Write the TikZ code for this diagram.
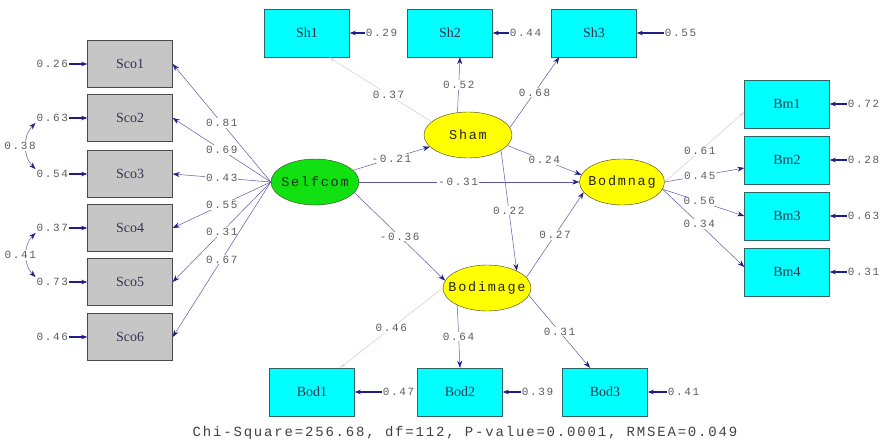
\documentclass[tikz,border=0pt]{standalone}
\usepackage{fontspec}
\usepackage{tikz}
\usetikzlibrary{shapes.geometric, arrows.meta, positioning}
\newfontfamily\lismono[LetterSpace=13]{Liberation Mono}
\newfontfamily\lisnum[LetterSpace=15]{Liberation Mono}
\newfontfamily\lisserif{Liberation Serif}
\definecolor{PathNavy}{HTML}{1E1E8A}
\definecolor{PathLine}{HTML}{5A5AAA}
\definecolor{FixLine}{HTML}{E6D6DC}
\definecolor{NumGray}{HTML}{5C5C5C}
\definecolor{BoxCyan}{HTML}{00FFFF}
\definecolor{BoxEdge}{HTML}{2E6464}
\definecolor{ScoGray}{HTML}{C6C6C6}
\definecolor{ScoEdge}{HTML}{4A4A4A}
\definecolor{LatGreen}{HTML}{11E011}
\definecolor{LatYellow}{HTML}{FFFF00}
\definecolor{LatEdge}{HTML}{3C3C28}
\definecolor{LabelDark}{HTML}{34344E}

\tikzset{
    obsbox/.style={draw=BoxEdge, fill=BoxCyan, minimum width=85pt, minimum height=48pt,
          font=\lisserif\fontsize{14}{14}\selectfont, text=LabelDark},
    scobox/.style={obsbox, draw=ScoEdge, fill=ScoGray, minimum height=47pt},
    latent/.style={ellipse, draw=LatEdge, fill=LatYellow, minimum width=88pt,
          minimum height=46pt, inner sep=0pt, font=\lismono\fontsize{13.5}{13.5}\selectfont,
          text=black!85},
    numlab/.style={font=\lisnum\fontsize{11}{11}\selectfont, text=NumGray, inner sep=1pt},
    onlab/.style={numlab, fill=white},
    load/.style={draw=PathLine, line width=0.5pt,
          -{Stealth[length=7pt, width=5pt, color=PathNavy]}},
    fixload/.style={draw=FixLine, line width=0.8pt,
          -{Stealth[length=6pt, width=4pt, color=FixLine]}},
    err/.style={draw=PathNavy, line width=1.2pt, -{Stealth[length=6pt, width=4.5pt]}},
    corr/.style={draw=PathLine, line width=0.5pt,
          {Stealth[length=7pt, width=5pt, color=PathNavy]}-{Stealth[length=7pt, width=5pt, color=PathNavy]}}
}

\begin{document}
\begin{tikzpicture}[x=1pt, y=-1pt]
    \useasboundingbox (0,0) rectangle (883,446);

    % indicators
    \node[scobox] (sco1) at (130,64) {Sco1};
    \node[scobox] (sco2) at (130,118) {Sco2};
    \node[scobox] (sco3) at (130,174) {Sco3};
    \node[scobox] (sco4) at (130,228) {Sco4};
    \node[scobox] (sco5) at (130,282) {Sco5};
    \node[scobox] (sco6) at (130,337) {Sco6};

    \node[obsbox] (sh1) at (307,33) {Sh1};
    \node[obsbox] (sh2) at (450,33) {Sh2};
    \node[obsbox] (sh3) at (594,33) {Sh3};

    \node[obsbox] (bm1) at (787,104) {Bm1};
    \node[obsbox] (bm2) at (787,160) {Bm2};
    \node[obsbox] (bm3) at (787,216) {Bm3};
    \node[obsbox] (bm4) at (787,272) {Bm4};

    \node[obsbox] (bod1) at (312,392) {Bod1};
    \node[obsbox] (bod2) at (460,392) {Bod2};
    \node[obsbox] (bod3) at (605,392) {Bod3};

    % latent variables
    \node[latent, fill=LatGreen] (self) at (315,182) {\makebox[0pt]{Selfcom}};
    \node[latent] (sham) at (468,135) {\makebox[0pt]{Sham}};
    \node[latent, minimum width=85pt] (bodm) at (622,182) {\makebox[0pt]{Bodmnag}};
    \node[latent] (bodi) at (487,288) {\makebox[0pt]{Bodimage}};

    % error variances
    \node[numlab, left=18pt of sco1] (esco1) {0.26};
    \node[numlab, left=18pt of sco2] (esco2) {0.63};
    \node[numlab, left=18pt of sco3] (esco3) {0.54};
    \node[numlab, left=18pt of sco4] (esco4) {0.37};
    \node[numlab, left=18pt of sco5] (esco5) {0.73};
    \node[numlab, left=18pt of sco6] (esco6) {0.46};
    \node[numlab, right=15pt of sh1] (esh1) {0.29};
    \node[numlab, right=16pt of sh2] (esh2) {0.44};
    \node[numlab, right=27pt of sh3] (esh3) {0.55};
    \node[numlab, right=17pt of bm1] (ebm1) {0.72};
    \node[numlab, right=17pt of bm2] (ebm2) {0.28};
    \node[numlab, right=17pt of bm3] (ebm3) {0.63};
    \node[numlab, right=17pt of bm4] (ebm4) {0.31};
    \node[numlab, right=27pt of bod1] (ebod1) {0.47};
    \node[numlab, right=18pt of bod2] (ebod2) {0.39};
    \node[numlab, right=19pt of bod3] (ebod3) {0.41};

    \foreach \v in {sco1,sco2,sco3,sco4,sco5,sco6,sh1,sh2,sh3,bm1,bm2,bm3,bm4,bod1,bod2,bod3}
        \draw[err] (e\v) -- (\v);

    \draw[corr] (esco2.south west) to[out=225, in=135]
        node[numlab, fill=white, xshift=-6pt] (c23) {0.38} (esco3.north west);
    \draw[corr] (esco4.south west) to[out=225, in=135]
        node[numlab, fill=white, xshift=-6pt] (c45) {0.41} (esco5.north west);

    % loadings
    \draw[load] (self.west) -- node[onlab] {0.81} (sco1.east);
    \draw[load] (self.west) -- node[onlab] {0.69} (sco2.east);
    \draw[load] (self.west) -- node[onlab] {0.43} (sco3.east);
    \draw[load] (self.west) -- node[onlab] {0.55} (sco4.east);
    \draw[load] (self.west) -- node[onlab] {0.31} (sco5.east);
    \draw[load] (self.west) -- node[onlab] {0.67} (sco6.east);

    \draw[fixload] (sham.160) -- node[onlab, pos=.42] {0.37} ([xshift=22pt]sh1.south);
    \draw[load] (sham.115) -- node[onlab] {0.52} ([xshift=10pt]sh2.south);
    \draw[load] (sham.10) -- node[onlab] {0.68} ([xshift=8pt]sh3.south west);

    \draw[fixload] (bodm.east) -- node[onlab, pos=.44] {0.61} ([yshift=-8pt]bm1.west);
    \draw[load] (bodm.east) -- node[onlab, pos=.44] {0.45} ([yshift=-8pt]bm2.west);
    \draw[load] (bodm.-10) -- node[onlab, pos=.45] {0.56} (bm3.west);
    \draw[load] (bodm.-10) -- node[onlab, pos=.45] {0.34} ([yshift=5pt]bm4.west);

    \draw[fixload] (bodi.west) -- node[onlab] {0.46} ([xshift=28pt]bod1.north);
    \draw[load] (bodi.-150) -- node[onlab] {0.64} (bod2.north);
    \draw[load] (bodi.-10) -- node[onlab] {0.31} ([xshift=-15pt]bod3.north);

    % structural paths
    \draw[load] (self) -- node[onlab] {-0.21} (sham);
    \draw[load] (self.east) -- node[onlab, pos=.45] {-0.31} (bodm.west);
    \draw[load] (self.-15) -- node[onlab] {-0.36} (bodi.170);
    \draw[load] (sham.-15) -- node[onlab] {0.24} (bodm.170);
    \draw[load] (sham.-25) -- node[onlab] {0.22} (bodi.30);
    \draw[load] (bodi.15) -- node[onlab] {0.27} (bodm.195);

    \node[font=\lismono\fontsize{14}{14}\selectfont, text=NumGray!70!black] (fitstats) at (465,433)
        {Chi-Square=256.68, df=112, P-value=0.0001, RMSEA=0.049};
\end{tikzpicture}
\end{document}
